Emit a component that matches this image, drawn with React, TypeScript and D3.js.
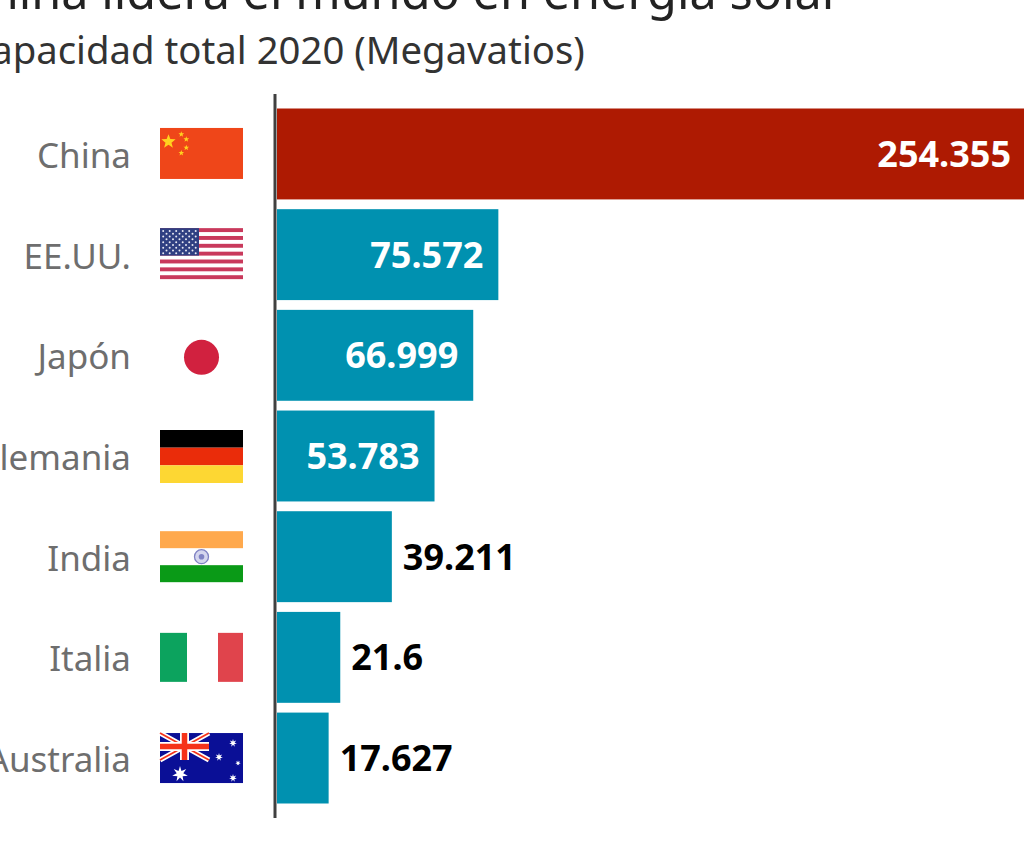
import * as d3 from 'd3';

const countries = ['China', 'EE.UU.', 'Japón', 'Alemania', 'India', 'Italia', 'Australia'];
const capacity = [254355, 75572, 66999, 53783, 39211, 21600, 17627];
const valueLabels = ['254.355', '75.572', '66.999', '53.783', '39.211', '21.6', '17.627'];
const title = 'China lidera el mundo en energía solar';
const subtitle = 'Capacidad total 2020 (Megavatios)';

const width = 1024;
const height = 851;
const font = '"Noto Sans", sans-serif';
const flagW = 83;
const flagH = 51;
// small nudges so each flag sits where it does in the picture
const flagShift = [-0.5, -1, 2, -0.5, 0, 1, 0.5];

const x = d3.scaleLinear().domain([0, 254355]).range([277, 1022]);
const y = d3.scaleBand().domain(countries).range([108.5, 803.5]).paddingInner(0.097);

const star = (r: number, points = 5) => {
  const pts = d3.range(points * 2).map((i) => {
    const a = (i * Math.PI) / points;
    const rad = i % 2 ? r * 0.42 : r;
    return [rad * Math.sin(a), -rad * Math.cos(a)];
  });
  return `M${pts.join('L')}Z`;
};

function ChinaFlag() {
  const small = [[21.3, 6.3], [26.3, 11.3], [26.3, 19.7], [21.3, 25]];
  return (
    <g>
      <rect width={flagW} height={flagH} fill="#ef4619" />
      <path d={star(7.5)} transform="translate(8.5,13.7)" fill="#ffd21f" />
      {small.map((p, i) => (
        <path key={i} d={star(3)} transform={`translate(${p[0]},${p[1]})`} fill="#ffd21f" />
      ))}
    </g>
  );
}

function UsaFlag() {
  const stripeH = flagH / 13;
  return (
    <g>
      <rect width={flagW} height={flagH} fill="#fff" />
      {d3.range(0, 13, 2).map((i) => (
        <rect key={i} y={i * stripeH} width={flagW} height={stripeH} fill="#c9395c" />
      ))}
      <rect width={39} height={stripeH * 7} fill="#2f3f82" />
      {d3.range(9).map((row) =>
        d3.range(row % 2 ? 5 : 6).map((col) => (
          <circle key={`${row}-${col}`} cx={(row % 2 ? 6.5 : 3.2) + col * 6.5} cy={2.8 + row * 2.8} r={1} fill="#e8e8f2" />
        ))
      )}
    </g>
  );
}

function JapanFlag() {
  return <circle cx={flagW / 2} cy={flagH / 2} r={17.5} fill="#d1213f" />;
}

function GermanyFlag() {
  const colors = ['#000000', '#ea2c0a', '#fdd733'];
  return (
    <g>
      {colors.map((c, i) => (
        <rect key={c} y={(i * 53) / 3} width={flagW} height={53 / 3} fill={c} />
      ))}
    </g>
  );
}

function IndiaFlag() {
  return (
    <g>
      <rect width={flagW} height={17} fill="#ffa94d" />
      <rect y={34} width={flagW} height={17} fill="#0a9a17" />
      <circle cx={flagW / 2} cy={25.5} r={7} fill="#d5d6ee" stroke="#8083c4" strokeWidth={1.3} />
      <circle cx={flagW / 2} cy={25.5} r={2.8} fill="#8083c4" />
    </g>
  );
}

function ItalyFlag() {
  return (
    <g>
      <rect width={27} height={flagH - 2} fill="#0ca35e" />
      <rect x={58} width={25} height={flagH - 2} fill="#e0444c" />
    </g>
  );
}

function AustraliaFlag() {
  const stars = [[73, 10, 4], [59, 24, 4], [78, 30, 2.8], [73, 45, 4], [20, 41, 8]];
  return (
    <g>
      <rect width={flagW} height={flagH - 1} fill="#0a0f96" />
      <path d="M0,0L49,27M49,0L0,27" stroke="#fff" strokeWidth={5} />
      <path d="M0,0L49,27M49,0L0,27" stroke="#f5331a" strokeWidth={1.8} />
      <path d="M24.5,0V27M0,13.5H49" stroke="#fff" strokeWidth={9} />
      <path d="M24.5,0V27M0,13.5H49" stroke="#f5331a" strokeWidth={5.5} />
      {stars.map((s, i) => (
        <path key={i} d={star(s[2], 7)} transform={`translate(${s[0]},${s[1]})`} fill="#fff" />
      ))}
    </g>
  );
}

const flags = [ChinaFlag, UsaFlag, JapanFlag, GermanyFlag, IndiaFlag, ItalyFlag, AustraliaFlag];

export default function App() {
  const band = y.bandwidth();
  return (
    <svg width={width} height={height} style={{ position: 'absolute', left: 0, top: 0 }} fontFamily={font}>
      <text x={-42} y={9} fontSize={48.6} fill="#222">{title}</text>
      <text x={-33} y={64} fontSize={38.3} fill="#333">{subtitle}</text>

      {countries.map((name, i) => {
        const top = y(name) || 0;
        const cy = top + band / 2;
        const end = x(capacity[i]);
        const inside = capacity[i] > 50000;
        const Flag = flags[i];
        return (
          <g key={name}>
            <text x={131} y={cy + 14} textAnchor="end" fontSize={35} fill="#6e6e6e">{name}</text>
            <g transform={`translate(160,${cy - flagH / 2 + flagShift[i]})`}>
              <Flag />
            </g>
            <rect x={x(0)} y={top} width={i === 0 ? width - x(0) : end - x(0)} height={band} fill={i === 0 ? '#ae1a02' : '#0091b0'} />
            <text
              x={i === 0 ? width - 13 : inside ? end - 15 : end + 11}
              y={cy + 13}
              textAnchor={inside ? 'end' : 'start'}
              fontSize={36}
              fontWeight={700}
              fill={inside ? '#fff' : '#000'}
            >
              {valueLabels[i]}
            </text>
          </g>
        );
      })}

      <line x1={275} x2={275} y1={94} y2={818} stroke="#404040" strokeWidth={3} />
    </svg>
  );
}
